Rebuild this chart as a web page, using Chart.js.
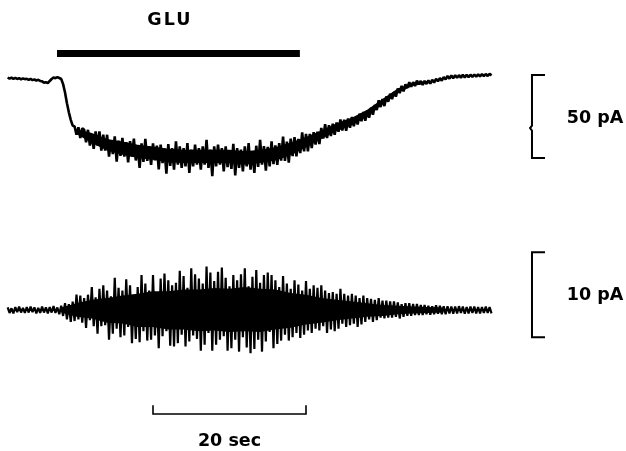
<!DOCTYPE html>
<html>
<head>
<meta charset="utf-8">
<script src="https://cdn.jsdelivr.net/npm/chart.js@4"></script>
<style>
body { margin: 0; background: #fff; }
</style>
</head>
<body>
<canvas id="myChart" width="626" height="451"></canvas>
<script>
// both traces sampled every 0.25 s, first sample at 1 s
const startTime = 1.0
const sampleStep = 0.25

// whole-cell current, pA (0 = holding level, inward = down)
const currentTrace = [
	-1.5,-2.2,-1.6,-2.3,-1.7,-2.4,-1.9,-2.6,-2.0,-2.5,
	-2.3,-2.9,-2.4,-3.1,-2.7,-3.3,-2.9,-3.6,-3.8,-4.6,
	-4.4,-4.9,-3.6,-2.4,-1.5,-1.9,-1.3,-1.8,-2.4,-5.5,
	-10.5,-17,-22.5,-27,-30.5,-31,-36,-31.5,-38,-32,
	-33,-40.5,-33,-42.5,-36,-44.5,-34,-42.5,-34,-45.5,
	-36,-45.5,-36,-49.2,-39.5,-47.7,-37,-52.2,-39.5,-48.7,
	-37.9,-49.1,-40.4,-52.6,-39.8,-49.1,-38.3,-51.5,-42.8,-56,
	-41.2,-52.4,-38.5,-51.7,-42.9,-54.1,-41.2,-51.4,-42.6,-56.8,
	-41.9,-53.1,-44.3,-59.5,-41.6,-54.8,-44,-57,-40,-54,
	-43,-56,-44,-55,-41,-59,-45,-55,-42,-54,
	-44,-57,-43,-54,-39,-56,-45,-61,-43,-55,
	-42,-54,-44,-58,-43,-55.5,-45.5,-56.5,-41.5,-60.5,
	-44,-56,-45,-58,-43,-55,-41,-57,-46,-59,
	-42.6,-55.3,-39.1,-54,-42.8,-57.6,-43.3,-55.1,-39.9,-53.7,
	-42.4,-54.2,-41,-51.6,-37.1,-51.7,-40.2,-52.8,-38.3,-48.9,
	-37.4,-49,-38.5,-47,-34.5,-46,-35.5,-46,-35.5,-44,
	-34.5,-41.9,-34.2,-41.6,-31.9,-38.3,-29.6,-38,-30.3,-36.8,
	-29.4,-36,-28.6,-34.2,-26.8,-33.4,-27,-33.6,-26.2,-31.8,
	-25.3,-30.8,-25.3,-29.8,-23.3,-27.8,-22.3,-27.5,-21.6,-25.7,
	-19.8,-23.9,-18,-21.1,-15.2,-19.3,-14.5,-18.7,-12.9,-16.1,
	-11.3,-14.5,-10.3,-13,-8.2,-10.9,-6.6,-9.9,-5.6,-7.8,
	-4.3,-7,-4.3,-6.6,-3.4,-5.7,-3.6,-6,-3.5,-5.4,
	-3.3,-5.2,-2.9,-4.6,-2.3,-3.8,-1.9,-3.4,-1.2,-2.6,
	-0.6,-2.2,-0.3,-1.9,-0.2,-1.7,-0.1,-1.6,0.1,-1.5,
	0.1,-1.3,0.2,-1.1,0.3,-1,0.4,-0.8,0.5,-0.7,
	0.6,-0.6,0.7,-0.3
]

// current noise (high-pass), pA
const noiseTrace = [
	0.3,-0.35,0.2,-0.4,0.35,-0.25,0.4,-0.3,0.25,-0.35,
	0.35,-0.3,0.4,-0.25,0.3,-0.4,0.25,-0.35,0.4,-0.3,
	0.3,-0.4,0.35,-0.3,0.45,-0.35,0.3,-0.5,0.5,-0.7,
	0.8,-1.1,0.7,-1.4,1.0,-1.3,1.8,-1.1,1.7,-1.5,
	1.4,-2.1,1.8,-1.2,2.7,-1.9,1.5,-2.8,2.5,-1.9,
	2.9,-1.8,2.3,-3.5,1.6,-2.8,3.8,-2.2,2.6,-3.2,
	2.3,-3.0,3.6,-2.0,2.9,-3.9,1.8,-3.4,2.7,-3.8,
	4.1,-2.5,3.1,-3.6,2.3,-3.5,4.1,-3.0,2.1,-4.5,
	3.7,-3.1,4.3,-2.5,3.5,-4.2,2.9,-4.3,3.2,-3.9,
	4.6,-2.9,4.0,-4.3,2.6,-3.7,4.9,-3.0,4.2,-3.4,
	3.7,-4.8,3.1,-4.1,5.1,-2.7,4.4,-4.8,3.4,-4.1,
	4.5,-3.5,5.0,-3.1,3.8,-4.8,2.8,-4.5,4.1,-3.5,
	3.5,-4.9,4.2,-3.2,4.9,-4.4,2.8,-5.1,3.9,-4.6,
	4.7,-3.5,3.2,-4.9,4.1,-3.7,4.4,-2.6,4.1,-4.5,
	3.5,-4.0,2.7,-3.6,4.0,-2.9,3.1,-3.6,2.5,-3.2,
	3.5,-2.7,3.0,-3.3,2.3,-2.9,3.4,-2.4,2.5,-2.7,
	2.9,-2.2,2.6,-2.4,2.9,-1.9,2.3,-2.7,2.0,-2.3,
	2.1,-2.5,1.9,-2.2,2.5,-1.6,1.9,-2.0,1.7,-1.8,
	1.9,-1.6,1.7,-2.0,1.4,-1.7,1.7,-1.4,1.4,-1.1,
	1.3,-1.4,1.2,-1.2,1.4,-0.9,1.1,-1.0,1.1,-0.9,
	1.0,-0.9,1.0,-0.8,0.9,-1.0,0.7,-0.8,0.8,-0.7,
	0.8,-0.7,0.7,-0.6,0.7,-0.6,0.6,-0.6,0.6,-0.5,
	0.5,-0.55,0.45,-0.5,0.55,-0.45,0.5,-0.5,0.45,-0.5,
	0.45,-0.4,0.4,-0.45,0.4,-0.4,0.45,-0.35,0.4,-0.45,
	0.35,-0.4,0.4,-0.35,0.4,-0.4,0.35,-0.4,0.35,-0.35,
	0.4,-0.35,0.35,-0.4
]

// dense (solid black) part of each trace, read every 2 s
const coreStep = 2
// current trace core, from 10 s
const currentCoreStart = 10
const currentCoreUpper = [-32.5,-35,-38.5,-40,-42,-43,-44.5,-45,-45,-45,-45,-46,-45,-43.5,-40.7,-37.3,-33.4,-29.1,-25.8,-21,-14.4,-8.2,-4.5,-3.5]
const currentCoreLower = [-35.5,-41,-45.5,-48,-50,-51,-52.5,-53,-53,-53,-53,-54,-53,-51.5,-48.3,-43.7,-38.6,-33.9,-30.2,-25,-17.6,-10.8,-6.5,-5.1]
// noise trace core, from 8 s
const noiseCoreStart = 8
const noiseCoreUpper = [0.3,0.8,1.2,1.4,1.7,1.9,2.2,2.2,2.4,2.4,2.6,2.5,2.7,2.5,2.4,2.0,1.8,1.4,1.2,1.0,0.8,0.6,0.5,0.4,0.35,0.3]
const noiseCoreLower = [-0.3,-0.8,-1.0,-1.5,-1.6,-2.0,-2.0,-2.3,-2.3,-2.5,-2.4,-2.6,-2.5,-2.6,-2.3,-2.1,-1.7,-1.5,-1.2,-1.0,-0.8,-0.7,-0.5,-0.4,-0.35,-0.3]

// glutamate application, s
const gluPeriod = [7.45, 39.2]
const gluLabel = 'GLU'

// calibration bars
const timeBar = [20, 40]
const timeLabel = '20 sec'
const currentBar = [0, -50]
const currentLabel = '50 pA'
const noiseBar = [6.8, -3.2]
const noiseLabel = '10 pA'

const toPoints = (arr, t0, dt) => arr.map((v, i) => ({ x: t0 + i * dt, y: v }))

//annotation: bar, labels and scale bars, placed through the scales
const drawMarks = {
	id: 'marks',
	afterDraw(chart) {
		const ctx = chart.ctx
		const sx = chart.scales.x
		const y1 = chart.scales.y1
		const y2 = chart.scales.y2
		const px = v => sx.getPixelForValue(v)
		ctx.save()
		ctx.strokeStyle = '#000'
		ctx.fillStyle = '#000'
		ctx.lineCap = 'butt'

		// GLU bar
		ctx.lineWidth = 7
		ctx.beginPath()
		ctx.moveTo(px(gluPeriod[0]), y1.getPixelForValue(13))
		ctx.lineTo(px(gluPeriod[1]), y1.getPixelForValue(13))
		ctx.stroke()

		// 50 pA bracket (with the small kink)
		const bx = 69.54, tx = 71.24
		ctx.lineWidth = 2
		ctx.beginPath()
		ctx.moveTo(px(tx), y1.getPixelForValue(currentBar[0]))
		ctx.lineTo(px(bx), y1.getPixelForValue(currentBar[0]))
		ctx.lineTo(px(bx), y1.getPixelForValue(-30.5))
		ctx.lineTo(px(bx - 0.25), y1.getPixelForValue(-32))
		ctx.lineTo(px(bx), y1.getPixelForValue(-33.5))
		ctx.lineTo(px(bx), y1.getPixelForValue(currentBar[1]))
		ctx.lineTo(px(tx), y1.getPixelForValue(currentBar[1]))
		ctx.stroke()

		// 10 pA bracket
		ctx.beginPath()
		ctx.moveTo(px(tx), y2.getPixelForValue(noiseBar[0]))
		ctx.lineTo(px(bx), y2.getPixelForValue(noiseBar[0]))
		ctx.lineTo(px(bx), y2.getPixelForValue(noiseBar[1]))
		ctx.lineTo(px(tx), y2.getPixelForValue(noiseBar[1]))
		ctx.stroke()

		// 20 sec bar
		ctx.lineWidth = 1.6
		ctx.beginPath()
		ctx.moveTo(px(timeBar[0]), y2.getPixelForValue(-11.2))
		ctx.lineTo(px(timeBar[0]), y2.getPixelForValue(-12.24))
		ctx.lineTo(px(timeBar[1]), y2.getPixelForValue(-12.24))
		ctx.lineTo(px(timeBar[1]), y2.getPixelForValue(-11.2))
		ctx.stroke()

		// labels
		ctx.font = 'bold 17.5px "DejaVu Sans"'
		ctx.textBaseline = 'middle'
		ctx.textAlign = 'center'
		ctx.letterSpacing = '2px'
		ctx.fillText(gluLabel, px(22.2), y1.getPixelForValue(33.1))
		ctx.letterSpacing = '0px'
		ctx.fillText(timeLabel, px((timeBar[0] + timeBar[1]) / 2), y2.getPixelForValue(-15.5))
		ctx.textAlign = 'left'
		ctx.fillText(currentLabel, px(74.1), y1.getPixelForValue(-26.1))
		ctx.fillText(noiseLabel, px(74.1), y2.getPixelForValue(1.7))
		ctx.restore()
	}
}

const coreSet = (arr, t0, axis, fill) => ({
	data: toPoints(arr, t0, coreStep),
	yAxisID: axis,
	borderWidth: 0,
	backgroundColor: '#000',
	fill: fill,
	pointRadius: 0
})

let ctx = document.getElementById('myChart').getContext('2d')

let myChart = new Chart(ctx, {
	type: 'line',
	data: {
		datasets: [
			coreSet(currentCoreUpper, currentCoreStart, 'y1', '+1'),
			coreSet(currentCoreLower, currentCoreStart, 'y1', false),
			coreSet(noiseCoreUpper, noiseCoreStart, 'y2', '+1'),
			coreSet(noiseCoreLower, noiseCoreStart, 'y2', false),
			{
				data: toPoints(currentTrace, startTime, sampleStep),
				yAxisID: 'y1',
				borderColor: '#000',
				borderWidth: 2.6,
				borderJoinStyle: 'bevel',
				pointRadius: 0
			}, {
				data: toPoints(noiseTrace, startTime, sampleStep),
				yAxisID: 'y2',
				borderColor: '#000',
				borderWidth: 2.2,
				borderJoinStyle: 'bevel',
				pointRadius: 0
			}
		]
	},
	options: {
		responsive: false,
		animation: false,
		layout: { padding: 0 },
		plugins: {
			legend: { display: false },
			tooltip: { enabled: false }
		},
		scales: {
			x: { type: 'linear', display: false, min: 0, max: 81.83 },
			y1: { display: false, min: -226.5, max: 45.18 },
			y2: { display: false, min: -16.59, max: 36.47 }
		}
	},
	plugins: [drawMarks]
})
</script>
</body>
</html>
